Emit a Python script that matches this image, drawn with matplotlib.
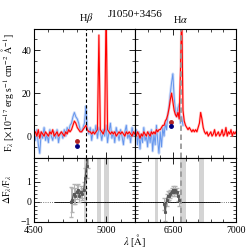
"""
Broad-line spectrum comparison for J1050+3456 (Hbeta and Halpha windows).
"""

import matplotlib.pyplot as plt
from matplotlib.ticker import MultipleLocator

plt.rcParams['font.family'] = ['Liberation Serif', 'DejaVu Serif']
plt.rcParams['mathtext.fontset'] = 'stix'
plt.rcParams['font.size'] = 7

# ============================================================================
# Data
# ============================================================================

# Hbeta window, 10 A grid
wave_hb = list(range(4500, 5201, 10))
blue_hb = [1, -2, 3, -4, -8, 2, -1, 4, -2, 1,
           -3, 3, 0, -2, 2, -1, 3, -3, 1, 2,
           -1, 3, 0, 4, 2, 5, 6, 9, 11, 9,
           8, 6, 3, 2, 4, 6, 14, 3, 1, 4,
           -2, 3, 1, 5, -1, 4, 2, -2, 3, 0,
           5, -3, 2, 6, -1, 2, -3, 4, 1, -2,
           3, 0, -4, 2, 5, -1, 1, -3, 4, 0, 2]
red_hb = [1, 2, 0, 3, -1, 2, 1, 0, 2, 1,
          0, 2, 1, 3, 0, 1, 2, 0, 1, 2,
          1, 0, 2, 1, 3, 2, 3, 5, 7, 6,
          4, 3, 2, 2, 3, 4, 5, 3, 2, 2,
          1, 2, 1, 2, 3, 47, 3, 2, 1, 3,
          60, 3, 2, 1, 2, 1, 2, 0, 1, 2,
          1, 2, 1, 0, 2, 1, 2, 1, 0, 2, 1]

# Halpha window, 10 A grid
wave_ha = list(range(6200, 7001, 10))
red_ha = [1, 0, 2, 1, -1, 1, 0, 2, 1, 0,
          2, 1, 0, 2, 1, 2, 1, 3, 2, 3,
          3, 4, 5, 5, 7, 8, 10, 13, 17, 20,
          16, 12, 10, 9, 11, 8, 30, 60, 12, 7,
          5, 4, 3, 4, 3, 2, 3, 2, 3, 2,
          4, 6, 11, 8, 4, 2, 1, 2, 0, 1,
          2, 0, 1, 3, 0, 1, 2, 0, 1, 3,
          0, 1, 4, 0, 2, 1, 3, 0, 2, 1, 2]
wave_ha_blue = list(range(6200, 6581, 10))
blue_ha = [-2, 3, -4, 2, -6, 1, -3, 4, -2, 0,
           -5, 2, -3, 3, -7, 1, -4, 5, -2, -8,
           2, -5, 4, 0, 6, 3, 10, 14, 20, 25,
           29, 18, 12, 9, 13, 15, 6, 9, 5]

# line-peak markers
dot_hb_x = 4800
dot_hb_red, dot_hb_blue = -2.2, -4.6
dot_ha_x = 6485
dot_ha_red, dot_ha_blue = 6.5, 4.5

# fractional residuals
res_hb_wave = [4755, 4765, 4775, 4785, 4795, 4805, 4815, 4825, 4835, 4845,
               4855, 4865, 4875]
res_hb = [0.0, 0.1, 0.4, 0.3, 0.5, 0.6, 0.3, 0.5, 0.4, 0.6, 1.2, 1.8, 2.5]
res_hb_err = [0.75, 0.6, 0.5, 0.4, 0.35, 0.3, 0.3, 0.3, 0.3, 0.4, 0.5, 0.6,
              0.8]
res_ha_wave = [6430, 6440, 6450, 6460, 6470, 6480, 6490, 6500, 6510, 6520,
               6530, 6540, 6550]
res_ha = [-0.1, -0.5, 0.1, 0.3, 0.3, 0.4, 0.5, 0.6, 0.5, 0.6, 0.5, 0.3, 0.1]
res_ha_err = [0.3, 0.45, 0.3, 0.25, 0.2, 0.2, 0.2, 0.2, 0.2, 0.2, 0.2, 0.25,
              0.3]

# masked regions
mask_hb = [(4850, 4870), (4935, 4968), (4988, 5018)]
mask_ha = [(6355, 6380), (6560, 6600), (6705, 6745)]

HB, HA = 4861, 6563

# ============================================================================
# Plotting
# ============================================================================

fig = plt.figure(figsize=(2.49, 2.49), dpi=100)
x0, xm, x1 = 0.1365, 0.542, 0.948
y0, ym, y1 = 0.110, 0.367, 0.885
ax_tl = fig.add_axes([x0, ym, xm - x0, y1 - ym])
ax_tr = fig.add_axes([xm, ym, x1 - xm, y1 - ym])
ax_bl = fig.add_axes([x0, y0, xm - x0, ym - y0])
ax_br = fig.add_axes([xm, y0, x1 - xm, ym - y0])

# top panels: spectra
for ax, wb, fb, wr, fr in [(ax_tl, wave_hb, blue_hb, wave_hb, red_hb),
                           (ax_tr, wave_ha_blue, blue_ha, wave_ha, red_ha)]:
    ax.plot(wb, fb, color='#bcd0f7', lw=2.0, alpha=0.7)
    ax.plot(wb, fb, color='cornflowerblue', lw=0.7)
    ax.plot(wr, fr, color='#ffa0a0', lw=1.8, alpha=0.6)
    ax.plot(wr, fr, color='red', lw=0.8)
    ax.set_ylim(-10, 50)

ax_tl.plot(dot_hb_x, dot_hb_red, 'o', color='firebrick', ms=2.5)
ax_tl.plot(dot_hb_x, dot_hb_blue, 'o', color='navy', ms=2.5)
ax_tr.plot(dot_ha_x, dot_ha_red, 'o', color='firebrick', ms=2.5)
ax_tr.plot(dot_ha_x, dot_ha_blue, 'o', color='navy', ms=2.5)

# bottom panels: residuals
for ax, masks in [(ax_bl, mask_hb), (ax_br, mask_ha)]:
    for lo, hi in masks:
        ax.axvspan(lo, hi, color='0.83', lw=0)
    ax.axhline(0, color='0.3', lw=0.6, ls=':')
    ax.set_ylim(-1, 2.2)
ax_bl.hlines(0, 4640, 5200, color='k', lw=0.6)
ax_br.hlines(0, 6200, 6870, color='k', lw=0.6)

ax_bl.errorbar(res_hb_wave, res_hb, yerr=res_hb_err, color='0.35', lw=1.0,
               ecolor='0.7', elinewidth=0.7, capsize=1.2, marker='s', ms=1.2)
ax_br.errorbar(res_ha_wave, res_ha, yerr=res_ha_err, color='0.35', lw=1.0,
               ecolor='0.7', elinewidth=0.7, capsize=1.2, marker='s', ms=1.2)

# reference lines
for ax in (ax_tl, ax_bl):
    ax.axvline(HB, color='k', lw=0.8, ls=(0, (3, 2)))
for ax in (ax_tr, ax_br):
    ax.axvline(HA, color='0.6', lw=1.3, ls=(0, (3, 2)))

# axes cosmetics
for ax in (ax_tl, ax_bl):
    ax.set_xlim(4500, 5200)
for ax in (ax_tr, ax_br):
    ax.set_xlim(6200, 7000)
for ax in (ax_tl, ax_tr, ax_bl, ax_br):
    ax.xaxis.set_major_locator(MultipleLocator(500))
    ax.xaxis.set_minor_locator(MultipleLocator(100))
    ax.tick_params(which='both', direction='in', top=True, right=True,
                   labelsize=7, pad=2)
    ax.tick_params(axis='x', pad=3.5)
    ax.tick_params(which='major', length=4, width=0.6)
    ax.tick_params(which='minor', length=2, width=0.5)
    for s in ax.spines.values():
        s.set_linewidth(0.8)
for ax in (ax_tl, ax_tr):
    ax.yaxis.set_major_locator(MultipleLocator(20))
    ax.yaxis.set_minor_locator(MultipleLocator(5))
    ax.tick_params(labelbottom=False)
for ax in (ax_bl, ax_br):
    ax.yaxis.set_major_locator(MultipleLocator(1))
    ax.yaxis.set_minor_locator(MultipleLocator(0.2))
for ax in (ax_tr, ax_br):
    ax.tick_params(labelleft=False)
ax_tl.set_yticks([0, 20, 40])
ax_bl.set_yticks([-1, 0, 1])
ax_bl.set_yticklabels(['\u22121', '0', '1'])

# labels
fig.text(0.542, 0.943, 'J1050+3456', ha='center', va='center', fontsize=8)
ax_tl.text(HB, 1.03, r'H$\beta$', transform=ax_tl.get_xaxis_transform(),
           ha='center', va='bottom', fontsize=7.5)
ax_tr.text(HA, 1.03, r'H$\alpha$', transform=ax_tr.get_xaxis_transform(),
           ha='center', va='bottom', fontsize=7.5)
fig.text(0.03, 0.63,
         r'F$_\lambda$ [$\times$10$^{-17}$ erg s$^{-1}$ cm$^{-2}$ $\mathrm{\AA}^{-1}$]',
         rotation=90, ha='center', va='center', fontsize=7)
fig.text(0.03, 0.24, r'$\Delta$F$_\lambda$/F$_\lambda$', rotation=90,
         ha='center', va='center', fontsize=7)
fig.text(0.542, 0.035, r'$\lambda$ [$\mathrm{\AA}$]', ha='center',
         va='center', fontsize=7.5)

fig.savefig('out.png', dpi=100)
